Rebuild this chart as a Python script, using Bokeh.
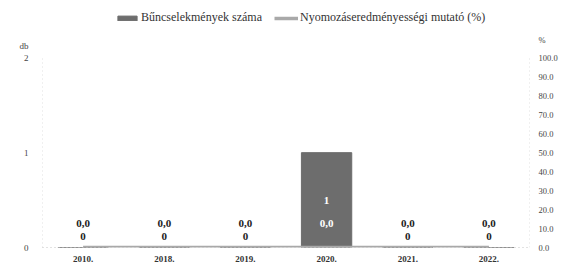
from bokeh.plotting import figure
from bokeh.models import (ColumnDataSource, Range1d, LinearAxis, FixedTicker,
                          NumeralTickFormatter, Legend, LegendItem, LabelSet)
from bokeh.embed import file_html
from bokeh.resources import INLINE

years = ["2010.", "2018.", "2019.", "2020.", "2021.", "2022."]
counts = [0, 0, 0, 1, 0, 0]
rates = [0.0, 0.0, 0.0, 0.0, 0.0, 0.0]
series_names = ["Bűncselekmények száma", "Nyomozáseredményességi mutató (%)"]
count_ticks = [0, 1, 2]
pct_ticks = [0, 10, 20, 30, 40, 50, 60, 70, 80, 90, 100]
count_unit = "db"
pct_unit = "%"

FONT = "Liberation Serif"
BAR_COLOR = "#6d6d6d"
LINE_COLOR = "#a9a9a9"
TXT = "#333333"
AXC = "#c4c4c4"

# layout (pixels)
W, H = 560, 264
B_LEFT, B_TOP, B_BOTTOM = 42, 4, 14
FRAME_H = H - B_TOP - B_BOTTOM
DATA_H = 192                      # pixel height of the 0..2 data area
Y_MAX = max(count_ticks)
Y_TOP = Y_MAX * FRAME_H / DATA_H  # extra room above for the legend
PCT_SCALE = max(pct_ticks) / Y_MAX
DB_POS = Y_MAX + 12 / DATA_H * Y_MAX       # where "db" sits
PCT_POS = (Y_MAX + 18 / DATA_H * Y_MAX) * PCT_SCALE  # where "%" sits

src = ColumnDataSource(dict(
    year=years,
    count=counts,
    rate=rates,
    count_y=[c / 2 for c in counts],
    count_off=[0 if c > 0 else 11 for c in counts],
    count_txt=[str(c) for c in counts],
    count_col=["white" if c > 0 else "#222222" for c in counts],
    rate_txt=[f"{r:.1f}".replace(".", ",") for r in rates],
    rate_col=["white" if c > 0 else "#222222" for c in counts],
))

p = figure(width=W, height=H, x_range=years, y_range=Range1d(0, Y_TOP),
           output_backend="svg", toolbar_location=None,
           min_border_left=B_LEFT, min_border_right=0, min_border_top=B_TOP,
           min_border_bottom=B_BOTTOM)
p.outline_line_color = None
p.xgrid.grid_line_color = None
p.ygrid.grid_line_color = None
p.x_range.range_padding = 0

p.extra_y_ranges = {"pct": Range1d(0, Y_TOP * PCT_SCALE)}

# dotted axis lines limited to the data area (frame edges via categorical offsets)
edge_src = ColumnDataSource(dict(
    x=[(years[0], -0.5), (years[-1], 0.5)],
    y0=[0, 0],
    y1=[Y_MAX, Y_MAX],
))
p.segment(x0="x", x1="x", y0="y0", y1="y1", source=edge_src,
          line_color=AXC, line_dash="1 3", line_width=1)

bars = p.vbar(x="year", top="count", width=0.62, source=src,
              fill_color=BAR_COLOR, line_color=BAR_COLOR)
line = p.line(x="year", y="rate", source=src, y_range_name="pct",
              line_color=LINE_COLOR, line_width=3.5)

# Left axis
ya = p.yaxis[0]
ya.ticker = FixedTicker(ticks=count_ticks + [DB_POS])
ya.major_label_overrides = {DB_POS: count_unit}
ya.axis_line_color = None
ya.major_tick_line_color = None
ya.minor_tick_line_color = None
ya.major_label_text_font = FONT
ya.major_label_text_font_size = "9px"
ya.major_label_text_color = "#444444"
ya.major_label_standoff = 8

# Right axis
ra = LinearAxis(y_range_name="pct", ticker=FixedTicker(ticks=pct_ticks + [PCT_POS]),
                formatter=NumeralTickFormatter(format="0.0"))
ra.major_label_overrides = {PCT_POS: pct_unit}
ra.axis_line_color = None
ra.major_tick_line_color = None
ra.minor_tick_line_color = None
ra.major_label_text_font = FONT
ra.major_label_text_font_size = "8.5px"
ra.major_label_text_color = "#444444"
ra.major_label_standoff = 3
p.add_layout(ra, "right")

# Bottom axis
xa = p.xaxis[0]
xa.axis_line_color = AXC
xa.axis_line_dash = "1 3"
xa.major_tick_line_color = None
xa.minor_tick_line_color = None
xa.major_label_text_font = FONT
xa.major_label_text_font_size = "9px"
xa.major_label_text_font_style = "bold"
xa.major_label_text_color = TXT
xa.major_label_standoff = 2

# Data labels
count_labels = LabelSet(x="year", y="count_y", text="count_txt", source=src,
                        y_offset="count_off", text_align="center",
                        text_baseline="middle", text_color="count_col",
                        text_font=FONT, text_font_size="11px",
                        text_font_style="bold")
rate_labels = LabelSet(x="year", y="rate", text="rate_txt", source=src,
                       y_range_name="pct", y_offset=24, text_align="center",
                       text_baseline="middle", text_color="rate_col",
                       text_font=FONT, text_font_size="11px",
                       text_font_style="bold")
p.add_layout(count_labels)
p.add_layout(rate_labels)

legend = Legend(items=[LegendItem(label=series_names[0], renderers=[bars]),
                       LegendItem(label=series_names[1], renderers=[line])],
                orientation="horizontal", location=(73, FRAME_H - 24),
                label_text_font=FONT, label_text_font_size="12px",
                label_text_color=TXT, glyph_width=24, glyph_height=6,
                label_standoff=2, spacing=12, padding=0, margin=0,
                border_line_color=None, background_fill_alpha=0)
p.add_layout(legend, "center")

open("out.html", "w").write(file_html(p, INLINE))
